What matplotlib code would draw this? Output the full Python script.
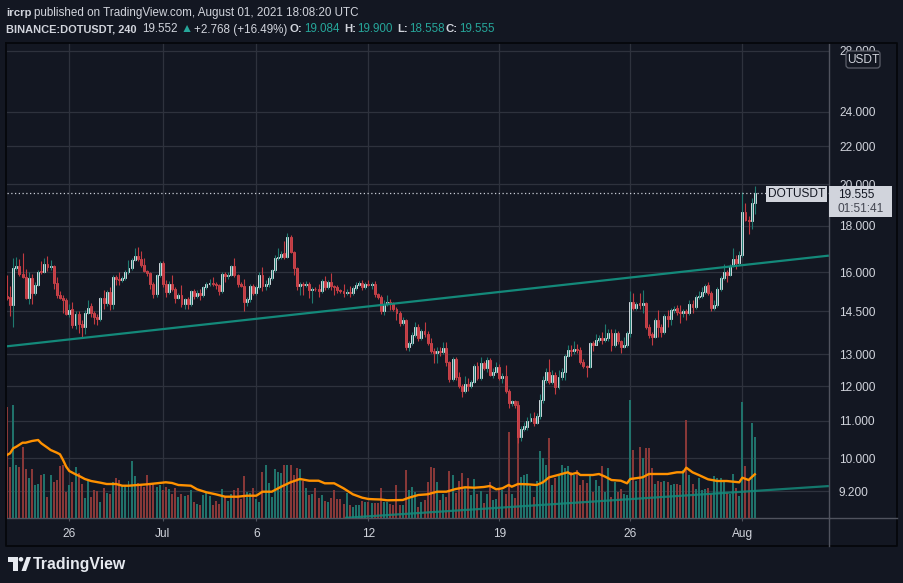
import matplotlib
matplotlib.use("Agg")
import matplotlib.pyplot as plt
import matplotlib.dates as mdates
from matplotlib.patches import Rectangle, FancyBboxPatch, Polygon, Circle
from matplotlib.lines import Line2D
from matplotlib.transforms import IdentityTransform
from matplotlib.ticker import NullLocator
import numpy as np
import pandas as pd

plt.rcParams['font.family'] = ['Liberation Sans', 'DejaVu Sans']

# ---------------- data (4h candles, BINANCE:DOTUSDT) ----------------
first_candle = '2021-06-22 16:00'

opens = [
    15.07, 15.02, 14.72, 16.18, 16.25, 15.95, 15.82, 15.00, 15.77, 15.20,
    15.50, 16.05, 16.00, 16.36, 16.20, 16.25, 15.56, 15.10, 15.00, 14.92,
    14.40, 14.60, 14.00, 14.40, 14.05, 13.95, 14.45, 14.70, 14.45, 14.30,
    14.22, 15.00, 14.80, 15.22, 14.78, 15.82, 15.75, 15.70, 15.78, 16.03,
    16.18, 16.50, 16.68, 16.55, 16.30, 16.05, 15.97, 15.52, 15.13, 15.88,
    16.37, 15.52, 15.22, 15.55, 15.35, 15.00, 15.12, 14.75, 14.95, 14.75,
    15.25, 15.08, 15.20, 15.10, 15.40, 15.52, 15.58, 15.52, 15.48, 15.25,
    15.92, 15.84, 15.90, 16.24, 15.90, 15.52, 15.47, 14.85, 14.95, 15.45,
    15.20, 15.42, 15.88, 15.44, 15.52, 15.78, 16.09, 16.60, 16.65, 16.80,
    16.65, 17.49, 16.85, 16.17, 15.47, 15.52, 15.50, 15.55, 15.30, 15.35,
    15.33, 15.25, 15.66, 15.40, 15.62, 15.44, 15.40, 15.30, 15.28, 15.18,
    15.22, 15.18, 15.36, 15.50, 15.56, 15.40, 15.55, 15.50, 15.55, 15.13,
    15.05, 14.50, 14.78, 14.85, 14.75, 14.58, 14.43, 14.07, 14.20, 13.25,
    13.37, 13.65, 13.95, 13.55, 13.78, 13.68, 13.38, 13.13, 13.06, 13.10,
    13.08, 13.20, 12.74, 12.21, 12.84, 12.29, 12.00, 11.84, 12.06, 12.00,
    12.14, 12.63, 12.25, 12.71, 12.56, 12.82, 12.34, 12.45, 12.60, 12.24,
    12.30, 11.84, 11.49, 11.55, 11.43, 10.56, 10.76, 10.82, 11.00, 11.08,
    10.94, 11.13, 11.58, 12.19, 12.45, 12.14, 12.34, 11.98, 12.29, 12.45,
    12.94, 13.15, 13.12, 13.18, 13.15, 12.76, 12.61, 12.58, 13.38, 13.33,
    13.48, 13.55, 13.48, 13.55, 13.73, 13.31, 13.71, 13.44, 13.25, 13.30,
    13.73, 14.85, 14.62, 14.80, 14.73, 14.80, 13.93, 13.68, 13.60, 14.18,
    13.93, 13.77, 14.34, 14.21, 14.55, 14.62, 14.48, 14.45, 14.50, 14.42,
    14.77, 14.64, 15.03, 15.07, 15.22, 15.48, 15.18, 14.62, 14.72, 15.33,
    15.76, 16.03, 15.90, 16.26, 16.53, 16.38, 16.72, 18.64, 18.27, 18.20,
    19.084,
]
highs = [
    15.89, 15.45, 16.60, 16.65, 16.55, 16.80, 16.15, 16.00, 15.95, 15.60,
    16.10, 16.45, 16.60, 16.68, 16.50, 16.30, 15.80, 15.25, 15.10, 15.00,
    14.75, 14.85, 14.50, 14.50, 14.20, 14.55, 14.90, 14.80, 14.50, 14.40,
    15.05, 15.30, 15.30, 15.40, 15.90, 15.90, 16.02, 15.85, 16.10, 16.50,
    16.60, 17.00, 17.05, 16.90, 16.60, 16.10, 16.00, 15.60, 15.95, 16.45,
    16.45, 15.70, 15.65, 15.90, 15.40, 15.20, 15.50, 15.00, 15.05, 15.30,
    15.35, 15.30, 15.35, 15.45, 15.60, 15.75, 15.80, 15.60, 15.55, 16.00,
    16.00, 16.00, 16.30, 16.57, 15.95, 15.60, 15.73, 15.05, 15.55, 15.55,
    15.50, 16.00, 16.20, 15.70, 15.85, 16.15, 16.70, 17.00, 16.90, 17.30,
    17.65, 17.60, 16.90, 16.20, 15.60, 15.60, 15.65, 15.60, 15.40, 15.40,
    15.55, 15.75, 15.85, 15.70, 15.96, 15.50, 15.50, 15.35, 15.55, 15.35,
    15.45, 15.45, 15.60, 15.65, 15.70, 15.62, 15.70, 15.60, 15.65, 15.20,
    15.10, 14.90, 15.10, 14.95, 14.85, 14.65, 14.50, 14.30, 14.22, 13.45,
    13.75, 14.10, 14.05, 13.85, 14.10, 13.80, 13.55, 13.20, 13.25, 13.25,
    13.40, 13.40, 12.80, 12.90, 12.90, 12.45, 12.05, 12.30, 12.25, 12.20,
    12.70, 12.75, 12.90, 12.78, 12.90, 12.88, 12.55, 12.75, 12.68, 12.40,
    12.66, 11.90, 11.60, 11.60, 11.54, 10.85, 10.95, 11.10, 11.20, 11.25,
    11.20, 11.76, 12.30, 12.55, 12.84, 12.50, 12.45, 12.50, 12.55, 13.00,
    13.30, 13.32, 13.45, 13.35, 13.25, 12.85, 12.65, 13.42, 13.45, 13.70,
    13.65, 13.75, 14.05, 13.85, 13.85, 13.85, 13.80, 13.50, 13.60, 13.80,
    15.25, 15.20, 14.85, 15.20, 15.30, 14.85, 14.05, 13.75, 14.25, 14.55,
    14.05, 14.40, 14.55, 14.62, 14.70, 14.72, 14.72, 14.60, 14.60, 14.90,
    14.90, 15.10, 15.25, 15.40, 15.55, 15.60, 15.25, 14.90, 15.40, 15.85,
    16.35, 16.10, 16.35, 17.00, 16.70, 16.90, 19.60, 19.07, 18.45, 19.30,
    19.900,
]
lows = [
    14.92, 14.33, 13.93, 16.10, 15.85, 15.78, 14.95, 14.75, 14.75, 15.10,
    15.45, 15.95, 15.98, 16.05, 16.10, 15.35, 15.00, 14.95, 14.45, 14.35,
    14.30, 13.90, 13.85, 13.72, 13.60, 13.70, 14.40, 14.30, 14.05, 14.00,
    14.15, 14.60, 14.70, 14.55, 14.60, 15.50, 15.50, 15.60, 15.70, 15.95,
    16.10, 16.45, 16.45, 16.20, 16.00, 15.85, 15.35, 15.00, 15.05, 15.80,
    15.40, 15.05, 15.15, 15.25, 14.80, 14.95, 14.65, 14.60, 14.60, 14.70,
    14.95, 15.00, 14.90, 15.05, 15.35, 15.45, 15.45, 15.35, 15.10, 15.20,
    15.60, 15.75, 15.85, 15.80, 15.40, 15.40, 14.50, 14.70, 14.85, 15.10,
    15.10, 15.35, 15.25, 15.30, 15.40, 15.70, 16.00, 16.50, 16.55, 16.55,
    16.60, 16.80, 15.90, 15.30, 15.10, 15.10, 15.40, 15.00, 14.80, 15.25,
    15.05, 15.20, 15.30, 15.35, 15.30, 15.10, 15.20, 15.20, 15.05, 15.10,
    15.05, 15.10, 15.30, 15.45, 15.30, 15.35, 15.45, 15.35, 15.05, 14.95,
    14.40, 14.35, 14.70, 14.55, 14.50, 14.20, 13.98, 14.00, 13.15, 13.10,
    13.30, 13.60, 13.45, 13.50, 13.60, 13.30, 13.05, 12.73, 12.72, 12.95,
    13.00, 12.62, 12.14, 12.15, 12.20, 11.95, 11.68, 11.80, 11.85, 11.95,
    12.10, 12.20, 12.20, 12.50, 12.45, 12.30, 12.25, 12.40, 12.20, 12.10,
    11.80, 11.34, 11.40, 11.35, 10.40, 10.45, 10.70, 10.75, 10.95, 10.85,
    10.90, 11.05, 11.50, 12.10, 12.05, 12.05, 11.76, 11.90, 12.20, 12.20,
    12.90, 12.95, 13.00, 13.05, 12.70, 12.55, 12.29, 12.55, 13.10, 13.30,
    13.40, 13.35, 13.40, 13.45, 13.10, 13.25, 13.35, 13.05, 13.20, 13.25,
    13.60, 14.55, 14.55, 14.60, 14.45, 13.85, 13.55, 13.33, 13.55, 13.60,
    13.60, 13.70, 13.93, 14.00, 14.45, 14.35, 14.07, 14.30, 14.20, 14.35,
    14.45, 14.60, 14.95, 15.00, 15.15, 15.10, 14.50, 14.55, 14.65, 15.25,
    15.70, 15.63, 15.85, 16.20, 16.15, 16.30, 16.65, 18.20, 17.62, 17.85,
    18.558,
]
closes = [
    15.00, 14.72, 16.18, 16.25, 15.92, 15.82, 15.00, 15.77, 15.20, 15.50,
    16.02, 16.00, 16.36, 16.20, 16.25, 15.56, 15.10, 15.00, 14.92, 14.40,
    14.55, 14.00, 14.40, 14.05, 13.95, 14.45, 14.62, 14.45, 14.30, 14.22,
    15.00, 14.80, 15.22, 14.78, 15.80, 15.75, 15.70, 15.78, 16.03, 16.18,
    16.50, 16.68, 16.55, 16.30, 16.05, 15.97, 15.52, 15.13, 15.88, 16.37,
    15.52, 15.22, 15.55, 15.35, 15.00, 15.12, 14.75, 14.95, 14.75, 15.25,
    15.08, 15.20, 15.10, 15.40, 15.52, 15.58, 15.52, 15.48, 15.25, 15.92,
    15.84, 15.90, 16.24, 15.90, 15.52, 15.47, 14.85, 14.95, 15.45, 15.20,
    15.42, 15.88, 15.44, 15.52, 15.78, 16.09, 16.60, 16.65, 16.77, 16.65,
    17.49, 16.85, 16.17, 15.47, 15.52, 15.50, 15.55, 15.30, 15.35, 15.33,
    15.25, 15.66, 15.40, 15.62, 15.44, 15.40, 15.30, 15.28, 15.18, 15.22,
    15.18, 15.36, 15.50, 15.56, 15.40, 15.55, 15.50, 15.52, 15.13, 15.03,
    14.50, 14.78, 14.85, 14.75, 14.58, 14.43, 14.07, 14.20, 13.25, 13.37,
    13.65, 13.95, 13.55, 13.78, 13.68, 13.38, 13.13, 13.06, 13.10, 13.08,
    13.20, 12.74, 12.21, 12.84, 12.29, 12.00, 11.84, 12.06, 12.00, 12.14,
    12.63, 12.25, 12.71, 12.56, 12.82, 12.34, 12.45, 12.60, 12.24, 12.30,
    11.84, 11.49, 11.55, 11.43, 10.56, 10.76, 10.85, 11.00, 11.08, 10.94,
    11.13, 11.58, 12.19, 12.45, 12.14, 12.34, 11.98, 12.29, 12.45, 12.94,
    13.15, 13.12, 13.18, 13.15, 12.76, 12.61, 12.58, 13.38, 13.33, 13.48,
    13.55, 13.48, 13.55, 13.73, 13.31, 13.71, 13.44, 13.25, 13.30, 13.73,
    14.85, 14.62, 14.77, 14.73, 14.80, 13.93, 13.65, 13.60, 14.18, 13.93,
    13.77, 14.34, 14.21, 14.55, 14.60, 14.48, 14.45, 14.50, 14.42, 14.77,
    14.64, 15.03, 15.07, 15.22, 15.44, 15.18, 14.62, 14.72, 15.33, 15.76,
    16.03, 15.90, 16.26, 16.53, 16.38, 16.72, 18.64, 18.27, 18.20, 19.084,
    19.555,
]
# volume per candle, in units of 100k DOT
volumes = [
    111, 51, 113, 53, 51, 71, 49, 40, 49, 33,
    34, 43, 44, 21, 43, 36, 38, 52, 53, 26,
    33, 36, 51, 45, 34, 20, 38, 21, 28, 27,
    16, 30, 25, 24, 36, 40, 38, 33, 33, 37,
    57, 42, 35, 33, 31, 43, 34, 34, 31, 33,
    28, 31, 29, 24, 30, 21, 24, 22, 23, 28,
    16, 14, 13, 23, 26, 22, 13, 17, 14, 29,
    21, 17, 24, 28, 30, 19, 42, 26, 25, 30,
    19, 16, 46, 53, 35, 21, 49, 46, 45, 53,
    53, 53, 43, 50, 49, 37, 30, 23, 24, 30,
    20, 23, 17, 16, 20, 28, 19, 19, 14, 25,
    13, 11, 13, 13, 17, 16, 16, 15, 15, 15,
    30, 16, 16, 14, 13, 33, 13, 13, 48, 28,
    31, 26, 11, 16, 18, 36, 51, 50, 36, 18,
    24, 21, 47, 43, 25, 37, 45, 30, 40, 23,
    39, 24, 27, 15, 24, 36, 18, 19, 29, 28,
    24, 86, 24, 20, 117, 41, 43, 44, 32, 21,
    37, 67, 60, 53, 80, 33, 40, 43, 53, 50,
    52, 46, 43, 48, 33, 38, 35, 42, 26, 38,
    32, 52, 26, 50, 21, 36, 26, 29, 24, 23,
    118, 68, 37, 71, 60, 70, 70, 50, 34, 37,
    36, 37, 36, 33, 34, 34, 33, 48, 98, 43,
    34, 29, 40, 28, 29, 30, 24, 42, 40, 40,
    36, 25, 24, 44, 30, 22, 116, 52, 38, 95,
    81,
]
# volume moving average: candle position -> value
ma_pos = [0, 1, 2, 3, 5, 6, 8, 10, 11, 13, 14, 16, 17, 18, 19, 20, 22, 23, 25, 27,
          30, 32, 35, 37, 39, 42, 45, 48, 51, 53, 55, 59, 61, 64, 67, 70, 74, 77, 80, 82,
          85, 88, 91, 94, 97, 100, 102, 105, 108, 111, 114, 116, 118, 120, 122, 127, 129, 132, 135, 138,
          141, 144, 147, 150, 153, 155, 157, 159, 161, 162, 164, 167, 170, 172, 174, 176, 180, 181, 183, 184,
          188, 190, 192, 194, 197, 199, 200, 204, 206, 209, 212, 215, 217, 218, 220, 222, 225, 228, 231, 235,
          236, 238, 240]
ma_vals = [63, 64.7, 69.7, 71.3, 75.3, 75.3, 77, 78, 74.7, 70.3, 68, 65.3, 63.7, 58, 51.3, 47, 43.7, 42.3, 39, 37,
           35.3, 34, 34, 32.3, 32.3, 33, 33.7, 34.7, 35.7, 35, 33, 32.3, 28.7, 25.7, 23.7, 21.3, 21.3, 22.3, 22.3, 26.3,
           26.3, 31.3, 35.7, 39, 37.3, 37.3, 34.7, 34.7, 29.7, 23.7, 20.3, 19, 18.7, 18.5, 17.7, 18, 20.3, 23, 23.7, 26.3,
           26.3, 29, 30.7, 30.3, 31, 32, 28.7, 29.7, 33, 31.3, 34, 33.7, 33, 35.7, 40.7, 42.3, 45.7, 43.7, 45.3, 43,
           43, 44, 41.3, 38, 37.3, 34.7, 39, 40.7, 44, 44, 44, 45.7, 45.7, 50.3, 45.7, 43, 38.7, 37, 37, 35.7,
           40.3, 38, 43.7]

# trend lines drawn on the chart (time, price anchors)
trend_upper_t = ['2021-06-22 16:00', '2021-08-05 15:00']
trend_upper_p = [13.27, 16.69]
trend_lower_t = ['2021-07-10 18:00', '2021-08-05 15:00']
trend_lower_p = [8.60, 9.32]

last_price = 19.555
price_ticks = [9.2, 10, 11, 12, 13, 14.5, 16, 18, 20, 22, 24, 28]
date_ticks = ['2021-06-26', '2021-07-01', '2021-07-06', '2021-07-12',
              '2021-07-19', '2021-07-26', '2021-08-01']
date_labels = ['26', 'Jul', '6', '12', '19', '26', 'Aug']

# ---------------- styling ----------------
W, H, DPI = 904, 583, 100
BG = '#131722'
TXT = '#d1d4dc'
GRID = '#2e323d'
AXLINE = '#50535e'
UP_BODY = '#e4eaee'
UP_WICK = '#1f7a70'
DN_BODY = '#ad8185'
DN_EDGE = '#d9434b'
DN_WICK = '#c23b41'
VOL_UP = '#20726b'
VOL_DN = '#883838'
MA_COL = '#ff9100'
TREND = '#13897a'
TEAL_TXT = '#26a69a'
ID = IdentityTransform()

o = np.array(opens); h = np.array(highs); l = np.array(lows); c = np.array(closes)
v = np.array(volumes)
times = pd.date_range(first_candle, periods=len(closes), freq='4h')
xs = mdates.date2num(times.to_pydatetime())
period = 4 / 24
up = c >= o

fig = plt.figure(figsize=(W / DPI, H / DPI), dpi=DPI, facecolor=BG)
rect = [7 / W, 1 - 518 / H, (829 - 7) / W, (518 - 43) / H]
ax = fig.add_axes(rect)
axv = fig.add_axes(rect, sharex=ax)
axc = fig.add_axes(rect, sharex=ax)

# --- base axes: grid and scales
ax.set_facecolor(BG)
ax.set_yscale('log')
ax.set_ylim(8.597, 28.57)
ax.set_yticks(price_ticks, labels=[f'{p:.3f}' for p in price_ticks])
ax.yaxis.set_minor_locator(NullLocator())
ax.yaxis.tick_right()
ax.tick_params(axis='y', length=0, pad=7.2, labelsize=8.6, labelcolor=TXT)
ax.set_xticks(mdates.date2num(pd.to_datetime(date_ticks).to_pydatetime()), labels=date_labels)
ax.xaxis.set_minor_locator(NullLocator())
ax.tick_params(axis='x', length=2.5, width=0.8, color=AXLINE, pad=5, labelsize=8.6, labelcolor=TXT)
ax.grid(True, color=GRID, lw=0.9)
ax.set_axisbelow(True)
for s in ['top', 'left']:
    ax.spines[s].set_visible(False)
for s in ['right', 'bottom']:
    ax.spines[s].set_color(AXLINE)
    ax.spines[s].set_linewidth(1.0)
x_left = mdates.date2num(pd.Timestamp('2021-06-22 16:02').to_pydatetime())
x_right = mdates.date2num(pd.Timestamp('2021-08-05 15:13').to_pydatetime())
ax.set_xlim(x_left, x_right)

# --- volume overlay
axv.set_axis_off()
axv.set_ylim(0, 475)
axv.bar(xs, v, width=0.64 * period, color=np.where(up, VOL_UP, VOL_DN), linewidth=0)
axv.plot(xs[np.array(ma_pos)], ma_vals, color=MA_COL, lw=1.7, solid_joinstyle='round')

# --- candles
axc.set_axis_off()
axc.set_yscale('log')
axc.set_ylim(8.597, 28.57)
axc.vlines(xs, l, h, colors=np.where(up, UP_WICK, DN_WICK), linewidth=0.8)
body_lo = np.minimum(o, c)
body_h = np.maximum(np.abs(c - o), body_lo * 0.0015)
axc.bar(xs, body_h, bottom=body_lo, width=0.62 * period,
        color=np.where(up, UP_BODY, DN_BODY),
        edgecolor=np.where(up, UP_BODY, DN_EDGE), linewidth=0.6)
axc.plot(mdates.date2num(pd.to_datetime(trend_upper_t).to_pydatetime()), trend_upper_p,
         color=TREND, lw=1.6, solid_capstyle='butt')
axc.plot(mdates.date2num(pd.to_datetime(trend_lower_t).to_pydatetime()), trend_lower_p,
         color=TREND, lw=1.6, solid_capstyle='butt', alpha=0.85)
axc.axhline(last_price, color='#c9cdd6', lw=0.9, ls=(0, (1, 2)))
axc.set_xlim(x_left, x_right)

# ---------------- chrome (pixel coordinates, y from top) ----------------
def P(x, y):
    return (x, H - y)

fig.add_artist(Line2D([6, 897, 897, 6, 6], [H - 43, H - 43, H - 546, H - 546, H - 43],
                      transform=ID, color='#05070b', lw=1.3))
fig.add_artist(Line2D([829, 829], [H - 518, H - 546], transform=ID, color=AXLINE, lw=1.0))
fig.add_artist(Line2D([829, 897], [H - 518, H - 518], transform=ID, color=AXLINE, lw=1.0))

# last price labels (they cover part of the 20.000 tick label, as in the original)
fig.add_artist(Rectangle(P(766, 202), 61, 16, transform=ID, facecolor='#d1d4dc',
                         edgecolor='none', zorder=5))
fig.text(*P(796.5, 194), 'DOTUSDT', transform=ID, ha='center', va='center',
         fontsize=8.6, color='#131722', zorder=6)
fig.add_artist(Rectangle(P(829, 217), 63, 31, transform=ID, facecolor='#d1d4dc',
                         edgecolor='none', zorder=5))
fig.text(*P(838, 194.5), '19.555', transform=ID, ha='left', va='center',
         fontsize=8.6, color='#131722', zorder=6)
fig.text(*P(838, 209.5), '01:51:41', transform=ID, ha='left', va='center',
         fontsize=8.6, color='#434651', zorder=6)

# currency label (covers part of the 28.000 tick label, as in the original)
fig.add_artist(FancyBboxPatch(P(846, 68), 34, 17, boxstyle='round,pad=0,rounding_size=3',
                              transform=ID, facecolor=BG, edgecolor='#5d606b', lw=0.9, zorder=5))
fig.text(*P(863, 59.8), 'USDT', transform=ID, ha='center', va='center',
         fontsize=8.6, color=TXT, zorder=6)

# header
fig.text(*P(6, 13), 'ircrp', transform=ID, ha='left', va='center', fontsize=8.2,
         color=TXT, weight='bold')
fig.text(*P(34, 13), 'published on TradingView.com, August 01, 2021 18:08:20 UTC',
         transform=ID, ha='left', va='center', fontsize=8.4, color=TXT)
pieces = [
    (6, 'BINANCE:DOTUSDT, 240', TXT, 'bold', 7.9),
    (142, '19.552', TXT, 'normal', 8.4),
    (181, '\u25b2', TEAL_TXT, 'normal', 8.8),
    (194, '+2.768 (+16.49%)', TXT, 'normal', 8.4),
    (290, 'O:', TXT, 'bold', 8.2),
    (304, '19.084', TEAL_TXT, 'normal', 8.4),
    (344, 'H:', TXT, 'bold', 8.2),
    (357, '19.900', TEAL_TXT, 'normal', 8.4),
    (397, 'L:', TXT, 'bold', 8.2),
    (409, '18.558', TEAL_TXT, 'normal', 8.4),
    (446, 'C:', TXT, 'bold', 8.2),
    (459, '19.555', TEAL_TXT, 'normal', 8.4),
]
for px, s, col, wt, fs in pieces:
    fig.text(*P(px, 29.5), s, transform=ID, ha='left', va='center', fontsize=fs,
             color=col, weight=wt)

# TradingView logo
logo_col = '#e6e9ef'
fig.add_artist(Polygon([P(8, 557), P(17.5, 557), P(17.5, 571), P(13, 571), P(13, 561.5), P(8, 561.5)],
                       closed=True, transform=ID, facecolor=logo_col, edgecolor='none'))
fig.add_artist(Circle(P(21, 559.3), 2.3, transform=ID, facecolor=logo_col, edgecolor='none'))
fig.add_artist(Polygon([P(21.5, 571), P(26.5, 557), P(31, 557), P(26, 571)],
                       closed=True, transform=ID, facecolor=logo_col, edgecolor='none'))
fig.text(*P(33, 564.5), 'TradingView', transform=ID, ha='left', va='center',
         fontsize=11.4, color=logo_col, weight='bold')

fig.savefig('out.png', dpi=DPI, facecolor=BG)
